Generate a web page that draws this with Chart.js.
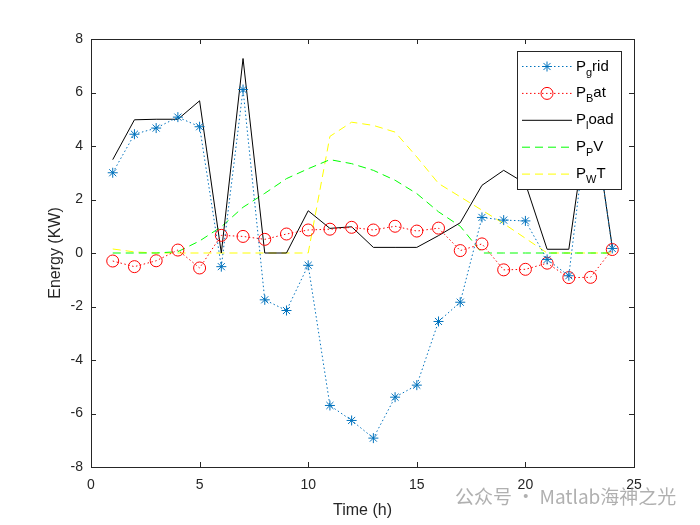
<!DOCTYPE html>
<html>
<head>
<meta charset="utf-8">
<script src="https://cdn.jsdelivr.net/npm/chart.js@4"></script>
<style>
  html, body { margin: 0; padding: 0; background: #fff; }
  #wrap { width: 700px; height: 525px; }
</style>
</head>
<body>
<div id="wrap"><canvas id="myChart" width="700" height="525"></canvas></div>
<script>
// hours
const hours = [1, 2, 3, 4, 5, 6, 7, 8, 9, 10, 11, 12, 13, 14, 15, 16, 17, 18, 19, 20, 21, 22, 23, 24];

// series
const pGrid = [3.0, 4.44, 4.67, 5.08, 4.72, -0.51, 6.11, -1.75, -2.15, -0.46, -5.7, -6.26,
               -6.92, -5.39, -4.94, -2.56, -1.84, 1.33, 1.23, 1.2, -0.24, -0.85, 5.9, 0.17];
const pBat = [-0.3, -0.51, -0.29, 0.11, -0.56, 0.66, 0.62, 0.51, 0.71, 0.86, 0.89, 0.96,
              0.86, 1.0, 0.82, 0.93, 0.09, 0.34, -0.63, -0.61, -0.38, -0.92, -0.91, 0.13];
const pLoad = [3.49, 4.98, 5.0, 5.0, 5.69, 0.0, 7.27, 0.0, 0.0, 1.58, 0.92, 0.98,
               0.21, 0.21, 0.21, 0.65, 1.13, 2.53, 3.09, 2.6, 0.14, 0.14, 5.8, 0.22];
const pPV = [0, 0, 0, 0.05, 0.45, 0.98, 1.71, 2.23, 2.78, 3.15, 3.49, 3.34,
             3.09, 2.72, 2.22, 1.54, 1.0, 0, 0, 0, 0, 0, 0, 0];
const pWT = [0.15, 0.04, 0, 0, 0, 0, 0, 0, 0, 0, 4.36, 4.89,
             4.77, 4.52, 3.59, 2.6, 2.1, 1.6, 1.1, 0.55, 0, 0, 0, 0];

const xTicks = [0, 5, 10, 15, 20, 25];
const yTicks = [-8, -6, -4, -2, 0, 2, 4, 6, 8];

function pts(vals) {
  return hours.map((h, i) => ({ x: h, y: vals[i] }));
}

const legendItems = [
  { main: 'P', sub: 'g', rest: 'rid', color: '#0072BD', dash: [1.5, 2.5], marker: 'star' },
  { main: 'P', sub: 'B', rest: 'at', color: '#FF0000', dash: [1.5, 2.5], marker: 'circle' },
  { main: 'P', sub: 'l', rest: 'oad', color: '#000000', dash: [], marker: null },
  { main: 'P', sub: 'P', rest: 'V', color: '#00FF00', dash: [8, 5], marker: null },
  { main: 'P', sub: 'W', rest: 'T', color: '#FFFF00', dash: [8, 5], marker: null }
];

// box, inward ticks, legend and watermark
const extras = {
  id: 'extras',
  afterDraw(chart) {
    const c = chart.ctx;
    const a = chart.chartArea;
    const xs = chart.scales.x, ys = chart.scales.y;
    c.save();
    c.strokeStyle = '#262626';
    c.lineWidth = 1;
    c.setLineDash([]);
    c.strokeRect(Math.round(a.left) + 0.5, Math.round(a.top) + 0.5,
                 Math.round(a.right - a.left), Math.round(a.bottom - a.top));
    c.beginPath();
    xTicks.forEach(v => {
      const px = Math.round(xs.getPixelForValue(v)) + 0.5;
      c.moveTo(px, a.bottom); c.lineTo(px, a.bottom - 5);
      c.moveTo(px, a.top); c.lineTo(px, a.top + 5);
    });
    yTicks.forEach(v => {
      const py = Math.round(ys.getPixelForValue(v)) + 0.5;
      c.moveTo(a.left, py); c.lineTo(a.left + 5, py);
      c.moveTo(a.right, py); c.lineTo(a.right - 5, py);
    });
    c.stroke();

    // legend
    const lx = 517.5, ly = 51.5, lw = 104, lh = 138;
    c.fillStyle = '#fff';
    c.fillRect(lx, ly, lw, lh);
    c.strokeStyle = '#262626';
    c.strokeRect(lx, ly, lw, lh);
    legendItems.forEach((it, i) => {
      const y = 66.5 + i * 26.9;
      c.strokeStyle = it.color;
      c.lineWidth = 1;
      c.setLineDash(it.dash);
      c.beginPath();
      c.moveTo(522, y); c.lineTo(572, y);
      c.stroke();
      c.setLineDash([]);
      if (it.marker === 'star') {
        const r = 5;
        c.beginPath();
        c.moveTo(547 - r, y); c.lineTo(547 + r, y);
        c.moveTo(547, y - r); c.lineTo(547, y + r);
        const d = r * 0.7071;
        c.moveTo(547 - d, y - d); c.lineTo(547 + d, y + d);
        c.moveTo(547 - d, y + d); c.lineTo(547 + d, y - d);
        c.stroke();
      } else if (it.marker === 'circle') {
        c.beginPath();
        c.arc(547, y, 6, 0, Math.PI * 2);
        c.stroke();
      }
      c.fillStyle = '#000';
      c.textBaseline = 'alphabetic';
      c.textAlign = 'left';
      c.font = '15px "Liberation Sans", Arial, sans-serif';
      let tx = 576;
      c.fillText(it.main, tx, y + 4);
      tx += c.measureText(it.main).width;
      c.font = '11px "Liberation Sans", Arial, sans-serif';
      c.fillText(it.sub, tx, y + 9);
      tx += c.measureText(it.sub).width;
      c.font = '15px "Liberation Sans", Arial, sans-serif';
      c.fillText(it.rest, tx, y + 4);
    });

    // watermark
    c.fillStyle = 'rgba(150,150,150,0.75)';
    c.font = '19px "Noto Sans CJK SC", sans-serif';
    c.textBaseline = 'middle';
    c.fillText('公众号 · Matlab海神之光', 455, 497);
    c.restore();
  }
};

const ctx = document.getElementById('myChart').getContext('2d');
const myChart = new Chart(ctx, {
  type: 'line',
  data: {
    datasets: [
      {
        label: 'P_grid',
        data: pts(pGrid),
        borderColor: '#0072BD',
        backgroundColor: 'rgba(0,0,0,0)',
        borderWidth: 1,
        borderDash: [1.5, 2.5],
        pointStyle: 'star',
        pointRadius: 5,
        pointBorderWidth: 1,
        tension: 0
      },
      {
        label: 'P_Bat',
        data: pts(pBat),
        borderColor: '#FF0000',
        backgroundColor: 'rgba(0,0,0,0)',
        borderWidth: 1,
        borderDash: [1.5, 2.5],
        pointStyle: 'circle',
        pointRadius: 6,
        pointBorderWidth: 1,
        tension: 0
      },
      {
        label: 'P_load',
        data: pts(pLoad),
        borderColor: '#000000',
        borderWidth: 1,
        pointRadius: 0,
        tension: 0
      },
      {
        label: 'P_PV',
        data: pts(pPV),
        borderColor: '#00FF00',
        borderWidth: 1,
        borderDash: [8, 5],
        pointRadius: 0,
        tension: 0
      },
      {
        label: 'P_WT',
        data: pts(pWT),
        borderColor: '#FFFF00',
        borderWidth: 1,
        borderDash: [8, 5],
        pointRadius: 0,
        tension: 0
      }
    ]
  },
  options: {
    responsive: false,
    animation: false,
    layout: { padding: { left: 0, top: 39, right: 66, bottom: 0 } },
    plugins: {
      legend: { display: false },
      tooltip: { enabled: false }
    },
    scales: {
      x: {
        type: 'linear',
        min: 0,
        max: 25,
        afterFit: s => { s.height = 58; },
        afterBuildTicks: s => { s.ticks = xTicks.map(v => ({ value: v })); },
        grid: { display: false, drawTicks: false },
        border: { display: false },
        ticks: {
          padding: 10,
          color: '#262626',
          font: { family: '"Liberation Sans", Arial, sans-serif', size: 14 }
        },
        title: {
          display: true,
          text: 'Time (h)',
          color: '#262626',
          font: { family: '"Liberation Sans", Arial, sans-serif', size: 16 },
          padding: { top: 0, bottom: 5 }
        }
      },
      y: {
        min: -8,
        max: 8,
        afterFit: s => { s.width = 91; },
        afterBuildTicks: s => { s.ticks = yTicks.map(v => ({ value: v })); },
        grid: { display: false, drawTicks: false },
        border: { display: false },
        ticks: {
          padding: 8,
          color: '#262626',
          font: { family: '"Liberation Sans", Arial, sans-serif', size: 14 }
        },
        title: {
          display: true,
          text: 'Energy (KW)',
          color: '#262626',
          font: { family: '"Liberation Sans", Arial, sans-serif', size: 16 },
          padding: { top: 46, bottom: 0 }
        }
      }
    }
  },
  plugins: [extras]
});
</script>
</body>
</html>
